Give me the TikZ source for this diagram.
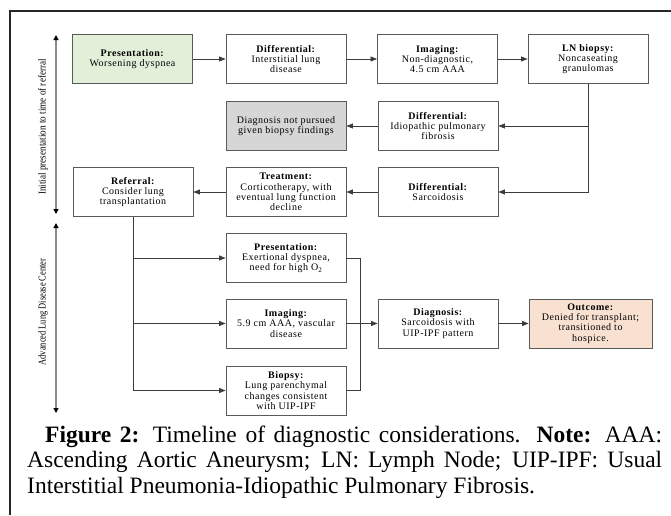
\documentclass[tikz,border=0pt]{standalone}
\usepackage{fontspec}
\usepackage{graphicx}
\setmainfont{Liberation Serif}
\newfontfamily\boxfont[LetterSpace=5]{Liberation Serif}
\usetikzlibrary{arrows.meta}
\definecolor{boxdraw}{HTML}{5A5A5A}
\definecolor{lineclr}{HTML}{3C3C3C}
\definecolor{greenfill}{HTML}{E2EFD9}
\definecolor{grayfill}{HTML}{D6D6D6}
\definecolor{salmonfill}{HTML}{F9E1D2}
\definecolor{axisclr}{HTML}{8A8A8A}
\tikzset{
  bx/.style={draw=boxdraw, line width=0.8pt, minimum width=120pt, minimum height=49pt,
    align=center, inner sep=1pt, text=black, font=\boxfont\fontsize{10}{10.3}\selectfont},
  conn/.style={draw=lineclr, line width=0.7pt},
  arr/.style={conn, -{Triangle[length=6.5pt,width=5pt]}},
  axisarrow/.style={draw=axisclr, line width=1.4pt,
    {Triangle[length=5pt,width=5pt,color=black]}-{Triangle[length=5pt,width=5pt,color=black]}},
  axislabel/.style={rotate=90, inner sep=0pt, font=\fontsize{10.5}{12}\selectfont, text=black},
}
\begin{document}
\begin{tikzpicture}[x=1pt,y=-1pt]
\useasboundingbox (0,0) rectangle (671,515);
% frame
\coordinate (frTR) at (671,11);
\coordinate (frTL) at (10,11);
\coordinate (frBL) at (10,515);
\draw[line width=1.3pt, draw=black!85] (frTR) -- (frTL) -- (frBL);

% axis arrows
\coordinate (a1t) at (56,35);
\coordinate (a1b) at (56,214);
\coordinate (a2t) at (56,223);
\coordinate (a2b) at (56,413);
\draw[axisarrow] (a1t) -- (a1b);
\draw[axisarrow] (a2t) -- (a2b);
\node[axislabel] (lab1) at (43,127) {\scalebox{0.87}[1]{Initial presentation to time of referral}};
\node[axislabel] (lab2) at (43,312) {\scalebox{0.8}[1]{Advanced Lung Disease Center}};

% row 1
\node[bx, fill=greenfill] (pres1) at (132.5,59) {\textbf{Presentation:}\\Worsening dyspnea};
\node[bx] (diff1) at (286,59) {\textbf{Differential:}\\Interstitial lung\\disease};
\node[bx] (img1) at (437.5,59) {\textbf{Imaging:}\\Non-diagnostic,\\4.5 cm AAA};
\node[bx] (ln) at (588,59) {\textbf{LN biopsy:}\\Noncaseating\\granulomas};
% row 2
\node[bx, fill=grayfill] (gray) at (286,126) {Diagnosis not pursued\\given biopsy findings};
\node[bx] (ipf) at (438,126) {\textbf{Differential:}\\Idiopathic pulmonary\\fibrosis};
% row 3
\node[bx] (ref) at (133,192) {\textbf{Referral:}\\Consider lung\\transplantation};
\node[bx] (treat) at (286,192) {\textbf{Treatment:}\\Corticotherapy, with\\eventual lung function\\decline};
\node[bx] (sarc) at (438,192) {\textbf{Differential:}\\Sarcoidosis};
% lower section
\node[bx] (pres2) at (286,258) {\textbf{Presentation:}\\Exertional dyspnea,\\need for high O\textsubscript{2}};
\node[bx] (img2) at (286,323.5) {\textbf{Imaging:}\\5.9 cm AAA, vascular\\disease};
\node[bx] (bio) at (286,390.5) {\textbf{Biopsy:}\\Lung parenchymal\\changes consistent\\with UIP-IPF};
\node[bx] (diag) at (438,323.5) {\textbf{Diagnosis:}\\Sarcoidosis with\\UIP-IPF pattern};
\node[bx, fill=salmonfill, minimum width=123pt] (out) at (590.5,323.5) {\textbf{Outcome:}\\Denied for transplant;\\transitioned to\\hospice.};

% connectors
\draw[arr] (pres1) -- (diff1);
\draw[arr] (diff1) -- (img1);
\draw[arr] (img1) -- (ln);
\draw[arr] (ln.south) |- (sarc.east);
\draw[arr] (ln.south |- ipf.east) -- (ipf.east);
\draw[arr] (ipf) -- (gray);
\draw[arr] (sarc) -- (treat);
\draw[arr] (treat) -- (ref);
\draw[conn] (ref.south) -- (ref.south |- bio.west);
\draw[arr] (ref.south |- pres2.west) -- (pres2.west);
\draw[arr] (ref.south |- img2.west) -- (img2.west);
\draw[arr] (ref.south |- bio.west) -- (bio.west);
\coordinate (brk) at (360,258);
\draw[conn] (pres2.east) -- (brk) -- (brk |- bio.east) -- (bio.east);
\draw[arr] (img2) -- (diag);
\draw[arr] (diag) -- (out);

% caption
\node[anchor=base west, inner sep=0pt, text width=635pt, align=justify,
  font=\fontsize{23.5}{25.8}\selectfont] (cap) at (27,442)
  {\hspace*{18pt}\textbf{Figure 2:} Timeline of diagnostic considerations. \textbf{Note:} AAA:\linebreak
   Ascending Aortic Aneurysm; LN: Lymph Node; UIP-IPF: Usual\linebreak
   Interstitial Pneumonia-Idiopathic Pulmonary Fibrosis.};
\end{tikzpicture}
\end{document}
